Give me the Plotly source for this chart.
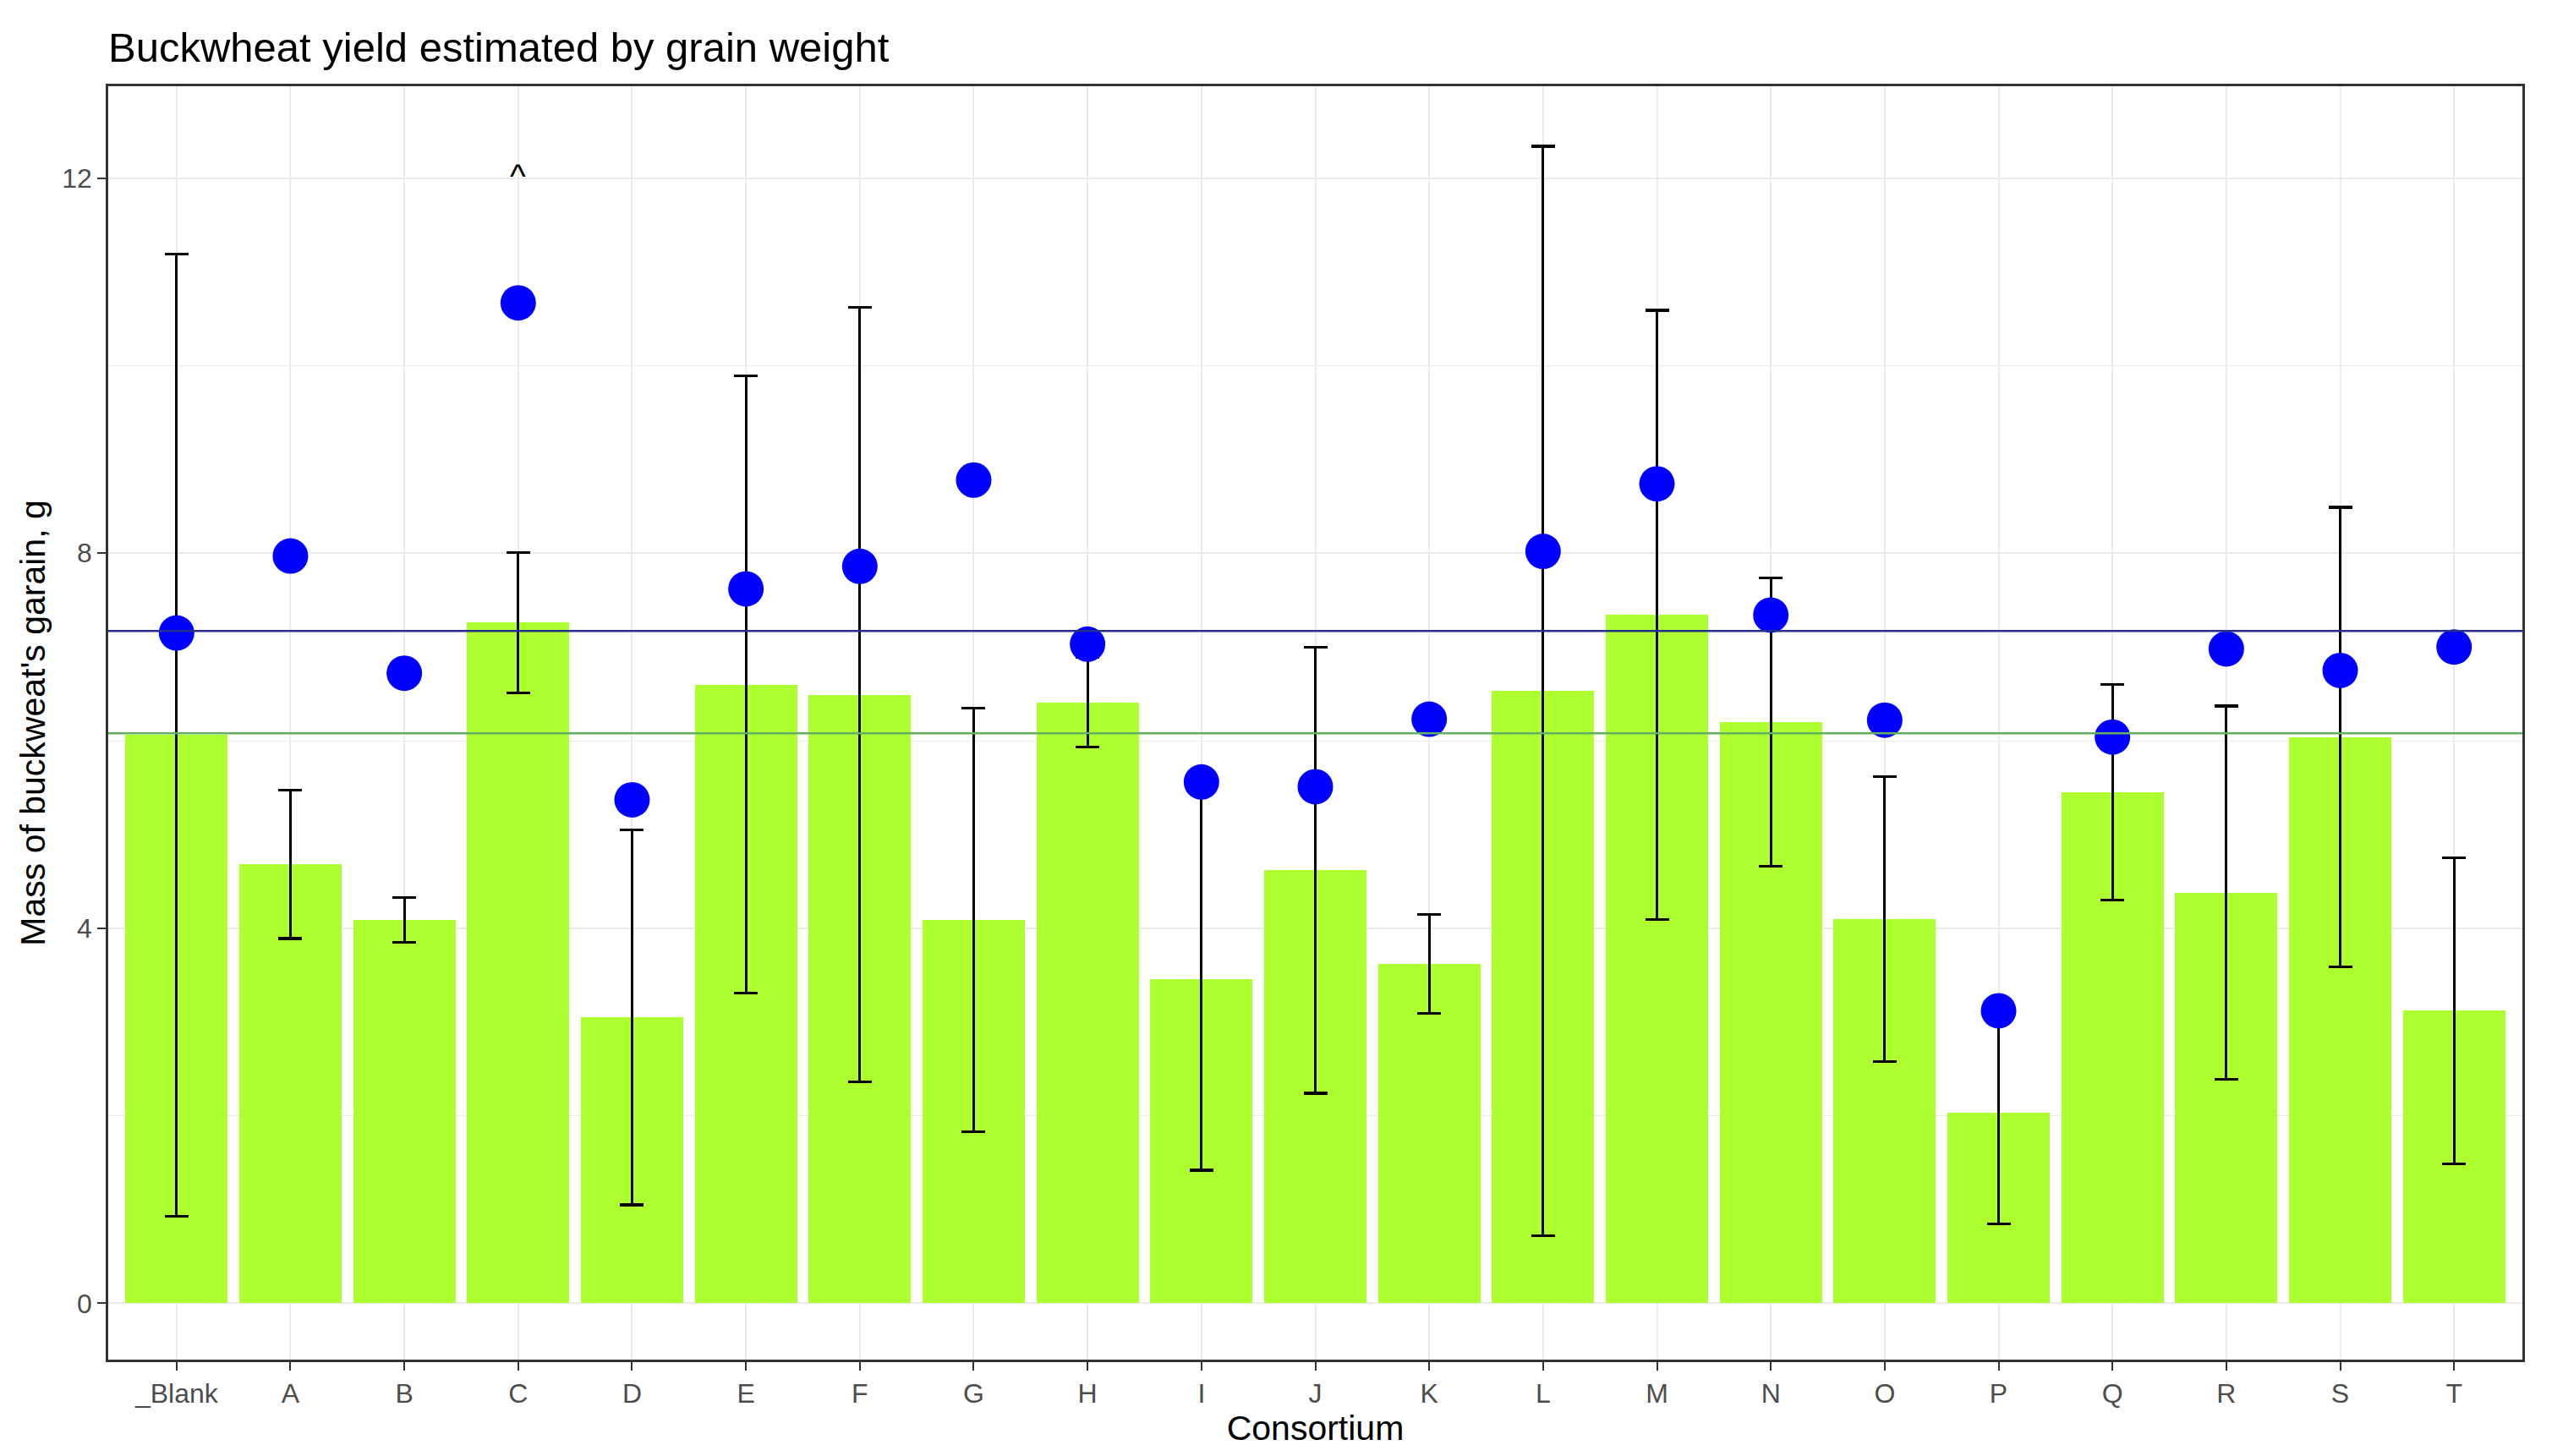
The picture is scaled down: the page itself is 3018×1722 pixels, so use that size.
import plotly.graph_objects as go

categories = ["_Blank", "A", "B", "C", "D", "E", "F", "G", "H", "I", "J",
              "K", "L", "M", "N", "O", "P", "Q", "R", "S", "T"]
bar_values = [6.06, 4.68, 4.09, 7.26, 3.05, 6.60, 6.49, 4.09, 6.41, 3.46, 4.62,
              3.62, 6.53, 7.34, 6.20, 4.10, 2.03, 5.45, 4.38, 6.04, 3.12]
bar_errors = [5.13, 0.79, 0.24, 0.75, 2.00, 3.29, 4.13, 2.26, 0.48, 2.04, 2.38,
              0.53, 5.81, 3.25, 1.54, 1.52, 1.18, 1.15, 1.99, 2.45, 1.63]
point_values = [7.15, 7.97, 6.72, 10.67, 5.37, 7.62, 7.86, 8.78, 7.03, 5.56, 5.51,
                6.23, 8.02, 8.74, 7.34, 6.22, 3.12, 6.04, 6.98, 6.75, 7.00]
blue_line_value = 7.17
green_line_value = 6.08
marker_category = "C"
marker_label = "^"
marker_y = 12.0
y_ticks = [0, 4, 8, 12]

FONT = "Liberation Sans, Arial, sans-serif"

fig = go.Figure()
fig.add_trace(go.Bar(
    x=categories, y=bar_values, width=0.9,
    marker=dict(color="#ADFF2F", line=dict(width=0)),
    error_y=dict(type="data", array=bar_errors, color="black",
                 thickness=3.2, width=14),
    showlegend=False,
))
fig.add_trace(go.Scatter(
    x=categories, y=point_values, mode="markers",
    marker=dict(color="#0000FF", size=42, line=dict(width=0)),
    showlegend=False,
))

fig.add_shape(type="line", xref="x domain", yref="y", x0=0, x1=1,
              y0=blue_line_value, y1=blue_line_value,
              line=dict(color="#26308A", width=2.5), layer="above")
fig.add_shape(type="line", xref="x domain", yref="y", x0=0, x1=1,
              y0=green_line_value, y1=green_line_value,
              line=dict(color="#62B062", width=2.5), layer="above")

fig.add_annotation(x=marker_category, y=marker_y, text=marker_label,
                   showarrow=False, yanchor="middle", yshift=3,
                   font=dict(family=FONT, size=40, color="black"))

fig.update_layout(
    width=3018, height=1722,
    margin=dict(l=120, r=43, t=94, b=122),
    paper_bgcolor="white", plot_bgcolor="white",
    bargap=0,
    title=dict(text="Buckwheat yield estimated by grain weight",
               x=120 / 3018, xanchor="left", xref="container",
               y=1 - 48 / 1722, yanchor="middle", yref="container",
               font=dict(family=FONT, size=49, color="black")),
    font=dict(family=FONT),
)
fig.update_xaxes(
    range=[-0.6, len(categories) - 0.4],
    showgrid=True, gridcolor="#EBEBEB", gridwidth=2,
    ticks="outside", ticklen=10, tickwidth=2, tickcolor="#333333",
    tickfont=dict(family=FONT, size=32, color="#4D4D4D"),
    showline=True, linecolor="#333333", linewidth=2.5, mirror=True,
    zeroline=False,
    title=dict(text="Consortium", standoff=8,
               font=dict(family=FONT, size=41, color="black")),
)
fig.update_yaxes(
    range=[-0.6, 12.98],
    tickvals=y_ticks,
    showgrid=True, gridcolor="#EBEBEB", gridwidth=2,
    minor=dict(dtick=2, showgrid=True, gridcolor="#EBEBEB", gridwidth=1),
    ticks="outside", ticklen=10, tickwidth=2, tickcolor="#333333",
    tickfont=dict(family=FONT, size=32, color="#4D4D4D"),
    showline=True, linecolor="#333333", linewidth=2.5, mirror=True,
    zeroline=False,
    title=dict(text="Mass of buckweat's garain, g", standoff=7,
               font=dict(family=FONT, size=41, color="black")),
)

fig.write_html("out.html")
